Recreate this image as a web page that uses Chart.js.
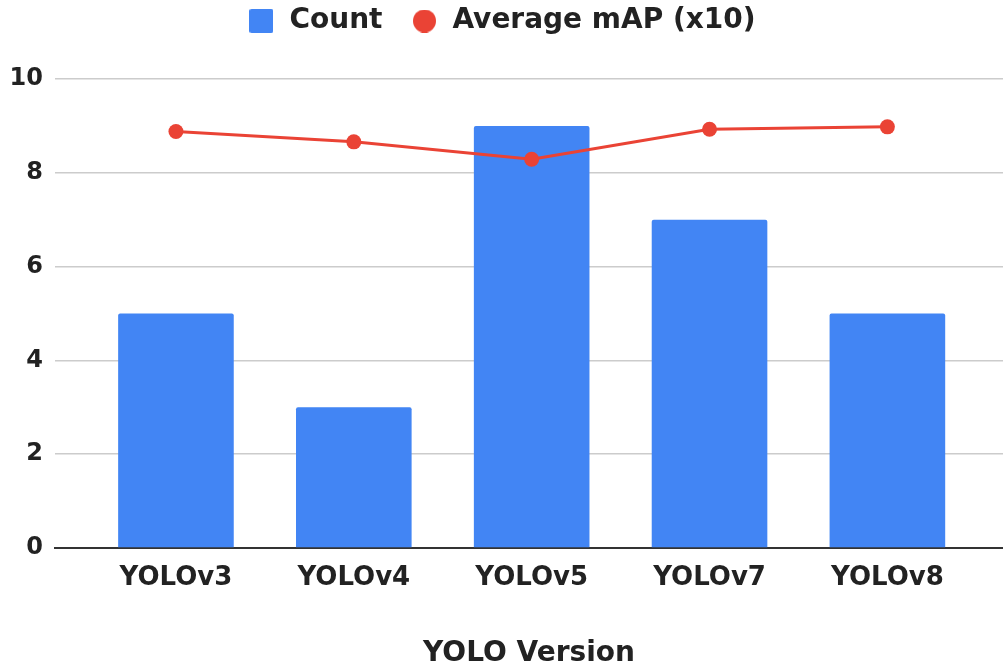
<!DOCTYPE html>
<html>
<head>
<meta charset="utf-8">
<script src="https://cdn.jsdelivr.net/npm/chart.js@4.4.1/dist/chart.umd.min.js"></script>
<style>
  html, body { margin: 0; padding: 0; background: #ffffff; }
  #wrap { width: 1003px; height: 668px; position: relative; }
</style>
</head>
<body>
<div id="wrap"><canvas id="chart" width="1003" height="668"></canvas></div>
<script>
// YOLO versions and their stats
const categories = ['YOLOv3', 'YOLOv4', 'YOLOv5', 'YOLOv7', 'YOLOv8'];
const counts = [5, 3, 9, 7, 5];
const avgMap = [8.88, 8.66, 8.29, 8.93, 8.98];
const yTicks = [0, 2, 4, 6, 8, 10];

const BLUE = '#4285F4';
const RED = '#EA4335';
const TEXT = '#222222';
const FONT = "'DejaVu Sans', Verdana, sans-serif";

// legend icons
function squareIcon(size, color) {
  const c = document.createElement('canvas');
  c.width = size; c.height = size;
  const g = c.getContext('2d');
  g.fillStyle = color;
  g.beginPath();
  g.roundRect(0, 0, size, size, 2);
  g.fill();
  return c;
}
function circleIcon(size, color) {
  const c = document.createElement('canvas');
  c.width = size; c.height = size;
  const g = c.getContext('2d');
  g.fillStyle = color;
  g.beginPath();
  g.arc(size / 2, size / 2, size / 2, 0, Math.PI * 2);
  g.fill();
  return c;
}

// keep the legend row near the top edge while leaving room above the plot
const legendPlacement = {
  id: 'legendPlacement',
  afterLayout(chart) {
    const lg = chart.legend;
    if (!lg) return;
    const pad = lg.options.labels.padding;
    const itemH = Math.max(lg.options.labels.font.size, lg.options.labels.boxHeight);
    const top = 21 - pad - itemH / 2;
    lg.bottom = top + lg.height;
    lg.top = top;
  }
};

const barPoints = categories.map((c, i) => ({ x: i, y: counts[i] }));
const linePoints = categories.map((c, i) => ({ x: i, y: avgMap[i] }));

new Chart(document.getElementById('chart'), {
  data: {
    datasets: [
      {
        type: 'line',
        label: 'Average mAP (x10)',
        data: linePoints,
        borderColor: RED,
        backgroundColor: RED,
        borderWidth: 3,
        pointRadius: 7.5,
        pointHoverRadius: 7.5,
        pointBorderWidth: 0,
        pointStyle: 'circle',
        tension: 0,
        clip: false,
        order: 0
      },
      {
        type: 'bar',
        label: 'Count',
        data: barPoints,
        backgroundColor: BLUE,
        borderRadius: 2,
        borderSkipped: 'bottom',
        barPercentage: 0.65,
        categoryPercentage: 1.0,
        order: 1
      }
    ]
  },
  options: {
    responsive: false,
    animation: false,
    devicePixelRatio: 1,
    layout: { autoPadding: false, padding: { top: 13, right: 0, left: 0, bottom: 0 } },
    plugins: {
      tooltip: { enabled: false },
      legend: {
        position: 'top',
        reverse: true,
        labels: {
          usePointStyle: true,
          boxWidth: 28,
          boxHeight: 24,
          padding: 28,
          color: TEXT,
          font: { family: FONT, size: 28, weight: 'bold' },
          generateLabels(chart) {
            return chart.data.datasets.map((ds, i) => ({
              text: ds.label,
              datasetIndex: i,
              fillStyle: ds.backgroundColor,
              strokeStyle: ds.backgroundColor,
              lineWidth: 0,
              hidden: false,
              fontColor: TEXT,
              pointStyle: ds.type === 'bar' ? squareIcon(24, BLUE) : circleIcon(23, RED)
            }));
          }
        }
      }
    },
    scales: {
      x: {
        type: 'linear',
        offset: false,
        min: -0.68,
        max: 4.65,
        afterBuildTicks(scale) {
          scale.ticks = categories.map((c, i) => ({ value: i }));
        },
        afterFit(scale) {
          scale.height = 120;
          scale.paddingLeft = 0;
          scale.paddingRight = 0;
        },
        ticks: {
          callback: (v) => categories[v],
          color: TEXT,
          padding: 15,
          maxRotation: 0,
          autoSkip: false,
          font: { family: FONT, size: 26, weight: 'bold' }
        },
        grid: { display: false, drawTicks: false },
        border: { display: true, color: '#333333', width: 2 },
        title: {
          display: true,
          text: 'YOLO Version',
          color: TEXT,
          padding: { top: 4, bottom: -3 },
          font: { family: FONT, size: 28, weight: 'bold' }
        }
      },
      y: {
        type: 'linear',
        min: 0,
        max: 10,
        afterBuildTicks(scale) {
          scale.ticks = yTicks.map(v => ({ value: v }));
        },
        afterFit(scale) { scale.width = 55; },
        ticks: {
          color: TEXT,
          padding: 12,
          font: { family: FONT, size: 24, weight: 'bold' }
        },
        grid: { color: '#cccccc', lineWidth: 1.5, drawTicks: false },
        border: { display: false }
      }
    }
  },
  plugins: [legendPlacement]
});
</script>
</body>
</html>
